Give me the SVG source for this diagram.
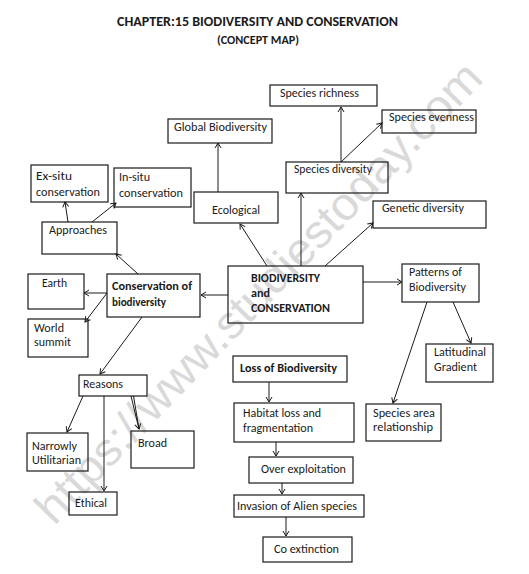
<svg xmlns="http://www.w3.org/2000/svg" width="529" height="574" viewBox="0 0 529 574">
<style>
  .bg{fill:#ffffff}
  .box{fill:none;stroke:#1a1a1a;stroke-width:1.2}
  .t{font-family:Carlito,Lato,"Open Sans",sans-serif;font-size:11.5px;fill:#1a1a1a}
  .b{font-weight:bold}
  .ttl{font-family:Carlito,Lato,"Open Sans",sans-serif;font-weight:bold;fill:#1a1a1a}
  .c{fill:none;stroke:#1a1a1a;stroke-width:1}
  .wm{font-family:"Liberation Sans",Arial,sans-serif;font-size:46px;fill:#d9d9d9}
</style>
<defs>
  <marker id="ah" markerUnits="userSpaceOnUse" markerWidth="8" markerHeight="8" refX="6" refY="4" orient="auto">
    <path d="M1,1 L6,4 L1,7" fill="none" stroke="#1a1a1a" stroke-width="1"/>
  </marker>
</defs>
<rect class="bg" x="0" y="0" width="529" height="574"/>
<text class="wm" x="258" y="292" dy="0.35em" text-anchor="middle" textLength="620" lengthAdjust="spacingAndGlyphs" transform="rotate(-46 258 292)">https://www.studiestoday.com</text>

<g id="title">
  <text class="ttl" x="117" y="26" font-size="13.5" textLength="281" lengthAdjust="spacingAndGlyphs">CHAPTER:15 BIODIVERSITY AND CONSERVATION</text>
  <text class="ttl" x="217" y="44" font-size="11" textLength="82" lengthAdjust="spacingAndGlyphs">(CONCEPT MAP)</text>
</g>

<g id="connectors">
  <path class="c" d="M341,162 L341,107" marker-end="url(#ah)"/>
  <path class="c" d="M341,162 L382,123" marker-end="url(#ah)"/>
  <path class="c" d="M218,192 L218,143" marker-end="url(#ah)"/>
  <path class="c" d="M267,266 L240,224" marker-end="url(#ah)"/>
  <path class="c" d="M301,266 L301,193" marker-end="url(#ah)"/>
  <path class="c" d="M325,266 L373,223" marker-end="url(#ah)"/>
  <path class="c" d="M363,282 L402,282" marker-end="url(#ah)"/>
  <path class="c" d="M228,295 L201,295" marker-end="url(#ah)"/>
  <path class="c" d="M138,274 L116,254" marker-end="url(#ah)"/>
  <path class="c" d="M68,222 L65,202" marker-end="url(#ah)"/>
  <path class="c" d="M92,222 L116,203" marker-end="url(#ah)"/>
  <path class="c" d="M107,293 L84,293" marker-end="url(#ah)"/>
  <path class="c" d="M107,293 L85,322" marker-end="url(#ah)"/>
  <path class="c" d="M142,317 L100,374" marker-end="url(#ah)"/>
  <path class="c" d="M83,396 L67,432" marker-end="url(#ah)"/>
  <path class="c" d="M104,396 L104,491" marker-end="url(#ah)"/>
  <path class="c" d="M131,396 L139,429" marker-end="url(#ah)"/>
  <path class="c" d="M133.5,396 L139,429"/>
  <path class="c" d="M453,302 L471,343" marker-end="url(#ah)"/>
  <path class="c" d="M427,302 L393,403" marker-end="url(#ah)"/>
  <path class="c" d="M269,382 L269,402" marker-end="url(#ah)"/>
  <path class="c" d="M276,442 L276,456" marker-end="url(#ah)"/>
  <path class="c" d="M282,483 L282,494" marker-end="url(#ah)"/>
  <path class="c" d="M286,517 L286,536" marker-end="url(#ah)"/>
</g>

<g id="species-richness"><rect class="box" x="270" y="85" width="107" height="21"/><text class="t" x="280" y="97" textLength="79" lengthAdjust="spacingAndGlyphs">Species richness</text></g>
<g id="species-evenness"><rect class="box" x="382" y="110" width="94" height="23"/><text class="t" x="389" y="121" textLength="85" lengthAdjust="spacingAndGlyphs">Species evenness</text></g>
<g id="global-biodiversity"><rect class="box" x="168" y="119" width="104" height="24"/><text class="t" x="174" y="131" textLength="93" lengthAdjust="spacingAndGlyphs">Global Biodiversity</text></g>
<g id="species-diversity"><rect class="box" x="286" y="162" width="102" height="31"/><text class="t" x="294" y="173" textLength="78" lengthAdjust="spacingAndGlyphs">Species diversity</text></g>
<g id="ex-situ"><rect class="box" x="31" y="165" width="77" height="37"/><text class="t" x="36" y="180" textLength="36" lengthAdjust="spacingAndGlyphs">Ex-situ</text><text class="t" x="36" y="196" textLength="64" lengthAdjust="spacingAndGlyphs">conservation</text></g>
<g id="in-situ"><rect class="box" x="114" y="168" width="77" height="39"/><text class="t" x="119" y="181" textLength="31" lengthAdjust="spacingAndGlyphs">In-situ</text><text class="t" x="119" y="197" textLength="64" lengthAdjust="spacingAndGlyphs">conservation</text></g>
<g id="approaches"><rect class="box" x="42" y="222" width="75" height="32"/><text class="t" x="49" y="234" textLength="58" lengthAdjust="spacingAndGlyphs">Approaches</text></g>
<g id="ecological"><rect class="box" x="194" y="192" width="84" height="31"/><text class="t" x="212" y="214" textLength="48" lengthAdjust="spacingAndGlyphs">Ecological</text></g>
<g id="genetic-diversity"><rect class="box" x="373" y="201" width="113" height="27"/><text class="t" x="382" y="212" textLength="82" lengthAdjust="spacingAndGlyphs">Genetic diversity</text></g>
<g id="biodiversity-conservation"><rect class="box" x="228" y="266" width="135" height="57"/><text class="t b" x="251" y="282" textLength="69" lengthAdjust="spacingAndGlyphs">BIODIVERSITY</text><text class="t b" x="251" y="297" textLength="19" lengthAdjust="spacingAndGlyphs">and</text><text class="t b" x="251" y="312" textLength="79" lengthAdjust="spacingAndGlyphs">CONSERVATION</text></g>
<g id="patterns"><rect class="box" x="402" y="264" width="77" height="38"/><text class="t" x="409" y="276" textLength="53" lengthAdjust="spacingAndGlyphs">Patterns of</text><text class="t" x="409" y="291" textLength="57" lengthAdjust="spacingAndGlyphs">Biodiversity</text></g>
<g id="earth"><rect class="box" x="28" y="274" width="56" height="35"/><text class="t" x="42" y="287" textLength="25" lengthAdjust="spacingAndGlyphs">Earth</text></g>
<g id="conservation"><rect class="box" x="107" y="274" width="93" height="43"/><text class="t b" x="112" y="290" textLength="80" lengthAdjust="spacingAndGlyphs">Conservation of</text><text class="t b" x="112" y="306" textLength="54" lengthAdjust="spacingAndGlyphs">biodiversity</text></g>
<g id="world-summit"><rect class="box" x="28" y="319" width="60" height="38"/><text class="t" x="34" y="332" textLength="30" lengthAdjust="spacingAndGlyphs">World</text><text class="t" x="34" y="346" textLength="37" lengthAdjust="spacingAndGlyphs">summit</text></g>
<g id="reasons"><rect class="box" x="79" y="375" width="68" height="21"/><text class="t" x="83" y="388" textLength="40" lengthAdjust="spacingAndGlyphs">Reasons</text></g>
<g id="narrowly-utilitarian"><rect class="box" x="27" y="433" width="61" height="38"/><text class="t" x="32" y="450" textLength="45" lengthAdjust="spacingAndGlyphs">Narrowly</text><text class="t" x="32" y="464" textLength="49" lengthAdjust="spacingAndGlyphs">Utilitarian</text></g>
<g id="broad"><rect class="box" x="131" y="431" width="63" height="37"/><text class="t" x="138" y="447" textLength="29" lengthAdjust="spacingAndGlyphs">Broad</text></g>
<g id="ethical"><rect class="box" x="69" y="492" width="48" height="23"/><text class="t" x="75" y="507" textLength="32" lengthAdjust="spacingAndGlyphs">Ethical</text></g>
<g id="loss"><rect class="box" x="233" y="356" width="114" height="26"/><text class="t b" x="240" y="372" textLength="97" lengthAdjust="spacingAndGlyphs">Loss of Biodiversity</text></g>
<g id="habitat-loss"><rect class="box" x="234" y="403" width="120" height="39"/><text class="t" x="243" y="417" textLength="78" lengthAdjust="spacingAndGlyphs">Habitat loss and</text><text class="t" x="243" y="432" textLength="70" lengthAdjust="spacingAndGlyphs">fragmentation</text></g>
<g id="over-exploitation"><rect class="box" x="249" y="457" width="104" height="26"/><text class="t" x="261" y="473" textLength="85" lengthAdjust="spacingAndGlyphs">Over exploitation</text></g>
<g id="invasion"><rect class="box" x="234" y="495" width="130" height="22"/><text class="t" x="237" y="510" textLength="120" lengthAdjust="spacingAndGlyphs">Invasion of Alien species</text></g>
<g id="co-extinction"><rect class="box" x="263" y="537" width="89" height="25"/><text class="t" x="274" y="553" textLength="65" lengthAdjust="spacingAndGlyphs">Co extinction</text></g>
<g id="species-area"><rect class="box" x="366" y="404" width="75" height="37"/><text class="t" x="373" y="417" textLength="62" lengthAdjust="spacingAndGlyphs">Species area</text><text class="t" x="373" y="431" textLength="60" lengthAdjust="spacingAndGlyphs">relationship</text></g>
<g id="latitudinal"><rect class="box" x="426" y="344" width="67" height="38"/><text class="t" x="434" y="356" textLength="52" lengthAdjust="spacingAndGlyphs">Latitudinal</text><text class="t" x="434" y="371" textLength="43" lengthAdjust="spacingAndGlyphs">Gradient</text></g>
</svg>
